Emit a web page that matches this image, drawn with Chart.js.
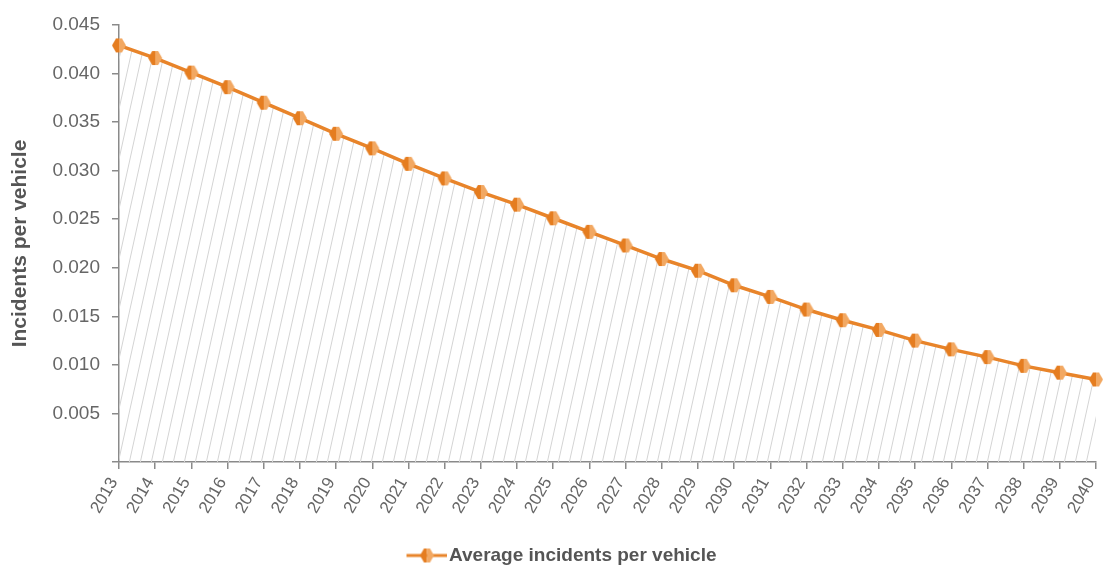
<!DOCTYPE html>
<html>
<head>
<meta charset="utf-8">
<script src="https://cdn.jsdelivr.net/npm/chart.js@4.4.1/dist/chart.umd.min.js"></script>
<style>
  html, body { margin: 0; padding: 0; background: #fff; }
  #wrap { width: 1112px; height: 565px; }
</style>
</head>
<body>
<div id="wrap"><canvas id="incidentChart"></canvas></div>
<script>
// chart data
const years = ['2013', '2014', '2015', '2016', '2017', '2018', '2019', '2020', '2021', '2022',
               '2023', '2024', '2025', '2026', '2027', '2028', '2029', '2030', '2031', '2032',
               '2033', '2034', '2035', '2036', '2037', '2038', '2039', '2040'];
const avgIncidents = [0.0429, 0.0416, 0.0401, 0.0386, 0.0370, 0.0354, 0.0338, 0.0323, 0.0307, 0.0292,
                      0.0278, 0.0265, 0.0251, 0.0237, 0.0223, 0.0209, 0.0197, 0.0182, 0.0170, 0.0157,
                      0.0146, 0.0136, 0.0125, 0.0116, 0.0108, 0.0099, 0.0092, 0.0085];
const yTicks = [0, 0.005, 0.010, 0.015, 0.020, 0.025, 0.030, 0.035, 0.040, 0.045];

const ORANGE = '#e8842a';
const AXIS = '#8a8a8a';
const FONT = "'Liberation Sans', Arial, sans-serif";

// thin diagonal hatch used under the line
function makeHatch() {
    const c = document.createElement('canvas');
    c.width = 11;
    c.height = 50;
    const g = c.getContext('2d');
    g.strokeStyle = '#d4d4d4';
    g.lineWidth = 1;
    [-11, 0, 11].forEach(o => {
        g.beginPath();
        g.moveTo(o, 50);
        g.lineTo(o + 11, 0);
        g.stroke();
    });
    return g.createPattern(c, 'repeat');
}

// two-tone hexagon marker
function drawMarker(g, cx, cy) {
    const pts = [[-7, 0], [-3, -7], [3, -7], [7, 0], [3, 7], [-3, 7]];
    g.save();
    g.beginPath();
    pts.forEach((p, i) => i ? g.lineTo(cx + p[0], cy + p[1]) : g.moveTo(cx + p[0], cy + p[1]));
    g.closePath();
    g.clip();
    g.fillStyle = '#e57d20';
    g.fillRect(cx - 8, cy - 8, 8, 16);
    g.fillStyle = '#f2a862';
    g.fillRect(cx, cy - 8, 8, 16);
    g.restore();
}

function markerImage() {
    const c = document.createElement('canvas');
    c.width = 16;
    c.height = 16;
    drawMarker(c.getContext('2d'), 8, 8);
    return c;
}

// legend swatch: line + marker, sitting in the right part of the image
function legendImage() {
    const c = document.createElement('canvas');
    c.width = 60;
    c.height = 16;
    const g = c.getContext('2d');
    g.strokeStyle = ORANGE;
    g.lineWidth = 3;
    g.beginPath();
    g.moveTo(19, 8);
    g.lineTo(60, 8);
    g.stroke();
    drawMarker(g, 39.5, 8);
    return c;
}

const marker = markerImage();
const legendMark = legendImage();

new Chart(document.getElementById('incidentChart'), {
    type: 'line',
    data: {
        labels: years,
        datasets: [{
            label: 'Average incidents per vehicle',
            data: avgIncidents,
            borderColor: ORANGE,
            borderWidth: 3.5,
            backgroundColor: makeHatch(),
            fill: 'origin',
            tension: 0,
            pointStyle: marker,
            pointRadius: 7,
            pointHoverRadius: 7
        }]
    },
    options: {
        responsive: true,
        maintainAspectRatio: false,
        animation: false,
        layout: { padding: { top: 25, right: 16, left: 16, bottom: -10 } },
        plugins: {
            tooltip: { enabled: false },
            legend: {
                position: 'bottom',
                labels: {
                    usePointStyle: true,
                    pointStyleWidth: 44,
                    padding: 8,
                    color: '#555',
                    font: { family: FONT, size: 19, weight: 'bold' },
                    generateLabels: chart => [{
                        text: chart.data.datasets[0].label,
                        pointStyle: legendMark,
                        fillStyle: ORANGE,
                        strokeStyle: ORANGE,
                        lineWidth: 0,
                        fontColor: '#555',
                        datasetIndex: 0
                    }]
                }
            }
        },
        scales: {
            x: {
                offset: false,
                border: { color: AXIS, width: 1.5 },
                grid: { drawOnChartArea: false, drawTicks: true, tickLength: 7, color: AXIS, lineWidth: 1.5 },
                ticks: {
                    color: '#666',
                    font: { family: FONT, size: 17 },
                    minRotation: 60,
                    maxRotation: 60,
                    padding: 5,
                    labelOffset: -5,
                    autoSkip: false
                },
                afterFit: s => { s.height = 76; s.paddingRight = 0; }
            },
            y: {
                min: 0,
                max: 0.045,
                border: { color: AXIS, width: 1.5 },
                grid: { drawOnChartArea: false, drawTicks: true, tickLength: 7, color: AXIS, lineWidth: 1.5 },
                afterBuildTicks: s => { s.ticks = yTicks.map(v => ({ value: v })); },
                ticks: {
                    color: '#666',
                    font: { family: FONT, size: 19 },
                    padding: 12,
                    callback: v => v === 0 ? '' : v.toFixed(3)
                },
                title: {
                    display: true,
                    text: 'Incidents per vehicle',
                    color: '#555',
                    font: { family: FONT, size: 21, weight: 'bold' },
                    padding: { top: -8, bottom: 0 }
                },
                afterFit: s => { s.width = 103; }
            }
        }
    }
});
</script>
</body>
</html>
